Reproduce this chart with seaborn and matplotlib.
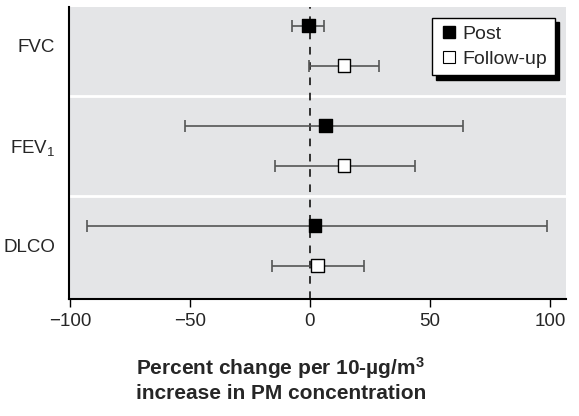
import matplotlib
matplotlib.use("Agg")
import matplotlib.pyplot as plt
from matplotlib.lines import Line2D
import numpy as np
import pandas as pd
import seaborn as sns

# Data
outcomes = ["FVC", "FEV$_1$", "DLCO"]
periods = ["Post", "Follow-up"]
post_est = [-0.7, 6.4, 2.1]
post_low = [-7.6, -52.0, -93.0]
post_high = [5.7, 64.0, 98.6]
fu_est = [14.2, 14.2, 3.2]
fu_low = [-0.4, -14.4, -15.8]
fu_high = [29.0, 44.0, 22.5]
x_ticks = [-100, -50, 0, 50, 100]

sns.set_theme(style="white")
fuente = ["Liberation Sans", "DejaVu Sans"]
plt.rcParams["font.family"] = fuente
plt.rcParams["mathtext.fontset"] = "custom"
plt.rcParams["mathtext.rm"] = fuente[0]
plt.rcParams["mathtext.it"] = fuente[0]
plt.rcParams["mathtext.bf"] = fuente[0] + ":bold"

# table for seaborn
filas = []
for i, nombre in enumerate(outcomes):
    filas.append({"outcome": nombre, "period": "Post", "est": post_est[i],
                  "low": post_low[i], "high": post_high[i], "pos": i - 0.2})
    filas.append({"outcome": nombre, "period": "Follow-up", "est": fu_est[i],
                  "low": fu_low[i], "high": fu_high[i], "pos": i + 0.2})
df = pd.DataFrame(filas)

fig = plt.figure(figsize=(5.79, 4.16), dpi=100)
ax = fig.add_axes([0.119, 0.281, 0.8585, 0.702])
ax.set_facecolor("#e4e5e7")

# group separators
for y in [0.5, 1.5]:
    ax.axhline(y, color="white", lw=2, zorder=1)

ax.axvline(0, color="black", lw=1.1, ls=(0, (5, 5)), zorder=2)

ax.errorbar(df["est"], df["pos"],
            xerr=[df["est"] - df["low"], df["high"] - df["est"]],
            fmt="none", ecolor="#555555", elinewidth=1.2, capsize=4,
            capthick=1.2, zorder=3)

sns.scatterplot(data=df, x="est", y="pos", hue="period",
                palette={"Post": "black", "Follow-up": "white"},
                marker="s", s=85, edgecolor="black", linewidth=1,
                legend=False, zorder=4, ax=ax)

ax.set_xlim(-100.4, 106.7)
ax.set_ylim(2.535, -0.385)
ax.set_xticks(x_ticks)
ax.set_xticklabels(["\u2212100", "\u221250", "0", "50", "100"])
ax.set_yticks(range(len(outcomes)))
ax.set_yticklabels(outcomes)
ax.tick_params(axis="x", direction="out", length=6, width=1, color="black",
               labelsize=13.5, pad=4, bottom=True)
ax.tick_params(axis="y", length=0, labelsize=13.5, pad=10)
ax.set_xlabel("")
ax.set_ylabel("")

for lado in ["top", "right"]:
    ax.spines[lado].set_visible(False)
for lado in ["left", "bottom"]:
    ax.spines[lado].set_color("black")
    ax.spines[lado].set_linewidth(1.5)

fig.text(0.485, 0.088, "Percent change per 10-\u00b5g/m$^{\\mathbf{3}}$\nincrease in PM concentration",
         ha="center", va="center", fontsize=15, fontweight="bold",
         linespacing=1.2)

manejadores = [
    Line2D([], [], ls="none", marker="s", markersize=9, markerfacecolor="black",
           markeredgecolor="black"),
    Line2D([], [], ls="none", marker="s", markersize=9, markerfacecolor="white",
           markeredgecolor="black", markeredgewidth=0.8),
]
leg = ax.legend(manejadores, periods, loc="upper right", fontsize=14,
                frameon=True, fancybox=False, borderaxespad=0.55,
                handletextpad=0.2, handlelength=1.0, borderpad=0.4,
                labelspacing=0.35,
                shadow={"color": "black", "alpha": 1, "ox": 3, "oy": -3})
leg.get_frame().set_edgecolor("black")
leg.get_frame().set_linewidth(1)
leg.get_frame().set_facecolor("white")

plt.savefig("out.png", dpi=100)
plt.close()
